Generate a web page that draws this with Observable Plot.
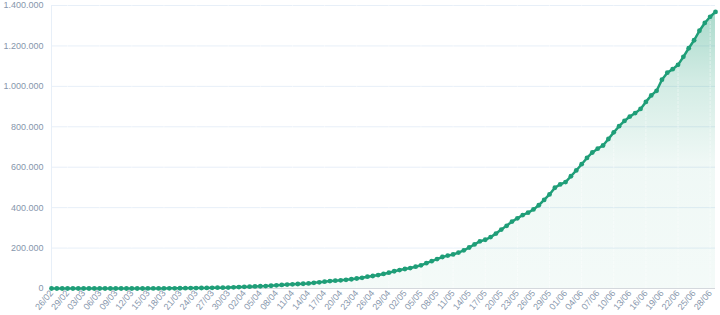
<!DOCTYPE html>
<html>
<head>
<meta charset="utf-8">
<script src="https://cdn.jsdelivr.net/npm/d3@7"></script>
<script src="https://cdn.jsdelivr.net/npm/@observablehq/plot@0.6"></script>
<style>
  html, body { margin: 0; padding: 0; background: #fff; }
  #chart { width: 720px; height: 315px; }
</style>
</head>
<body>
<div id="chart"></div>
<script>
// Cumulative cases, daily from 26/02 to 29/06
const startDate = "2020-02-26";
const cases = [
  1, 1, 1, 2,
  2, 2, 2, 3, 8, 13, 19, 25, 25, 34, 52, 77, 98, 121, 200, 234, 291, 428, 621, 904, 1128, 1546, 1891, 2201, 2433, 2915, 3417, 3904, 4256, 4579, 5717,
  6836, 8044, 9056, 10278, 11130, 12056, 13717, 15927, 17857, 19638, 20727, 22169, 23430, 25262, 28320, 30425, 33682, 36599, 38654, 40581, 43079, 45757, 49492, 52995, 58509, 61888, 66501, 71886, 78162, 85380,
  91299, 96396, 101147, 107780, 114715, 125218, 135106, 145328, 155939, 162699, 168331, 177589, 188974, 202918, 218223, 233142, 241080, 254220, 271628, 291579, 310087, 330890, 347398, 363211, 374898, 391222, 411821, 438238, 465166, 498440, 514849,
  526447, 555383, 584016, 614941, 645771, 672846, 691758, 707412, 739503, 772416, 802828, 828810, 850514, 867624, 888271, 923189, 955377, 978142, 1032913, 1067579, 1085038, 1106470, 1145906, 1188631, 1228114, 1274974, 1313667, 1344143, 1368195
];
const yTicks = [0, 200000, 400000, 600000, 800000, 1000000, 1200000, 1400000];
const tickEveryDays = 3;

const t0 = new Date(startDate + "T00:00:00Z");
const data = cases.map((v, i) => ({date: d3.utcDay.offset(t0, i), value: v}));
const xTicks = data.filter((d, i) => i % tickEveryDays === 0).map(d => d.date);

const fmt = d3.formatLocale({decimal: ",", thousands: ".", grouping: [3], currency: ["", ""]}).format(",");
const dateFmt = d3.utcFormat("%d/%m");

const color = "#1f9e78";
const gridColor = "#e7eff8";
const labelColor = "#8696ac";

const chart = Plot.plot({
  width: 720,
  height: 315,
  marginTop: 5,
  marginRight: 5,
  marginBottom: 27,
  marginLeft: 51,
  style: {fontFamily: "'Liberation Sans', Arial, sans-serif", background: "transparent"},
  x: {type: "utc", domain: [data[0].date, data[data.length - 1].date], label: null},
  y: {domain: [0, 1400000], label: null},
  marks: [
    Plot.gridY(yTicks, {stroke: gridColor, strokeOpacity: 1, strokeWidth: 1}),
    Plot.ruleX([data[0].date], {stroke: gridColor, strokeWidth: 1}),
    Plot.areaY(data, {x: "date", y: "value", fill: "url(#areaGrad)"}),
    Plot.gridX(xTicks.filter((d, i) => i % 2 === 1), {stroke: "#ffffff", strokeOpacity: 0.45, strokeWidth: 1, strokeDasharray: "3,1"}),
    Plot.ruleY([0], {stroke: "#d4d8dd", strokeWidth: 1}),
    Plot.lineY(data, {x: "date", y: "value", stroke: color, strokeWidth: 2.5}),
    Plot.dot(data, {x: "date", y: "value", fill: color, r: 2.4}),
    Plot.axisY(yTicks, {tickFormat: fmt, tickSize: 0, tickPadding: 8, fill: labelColor, fontSize: 9, label: null}),
    Plot.axisX(xTicks, {tickFormat: dateFmt, tickSize: 0, tickPadding: 3, tickRotate: -50, fill: labelColor, fontSize: 9, label: null})
  ]
});

const svg = d3.select(chart);
const defs = svg.insert("defs", ":first-child");
const g = defs.append("linearGradient").attr("id", "areaGrad")
  .attr("x1", 0).attr("y1", 0).attr("x2", 0).attr("y2", 1);
g.append("stop").attr("offset", "0%").attr("stop-color", color).attr("stop-opacity", 0.38);
g.append("stop").attr("offset", "25%").attr("stop-color", color).attr("stop-opacity", 0.2);
g.append("stop").attr("offset", "55%").attr("stop-color", color).attr("stop-opacity", 0.07);
g.append("stop").attr("offset", "100%").attr("stop-color", color).attr("stop-opacity", 0.05);

document.getElementById("chart").appendChild(chart);
</script>
</body>
</html>
